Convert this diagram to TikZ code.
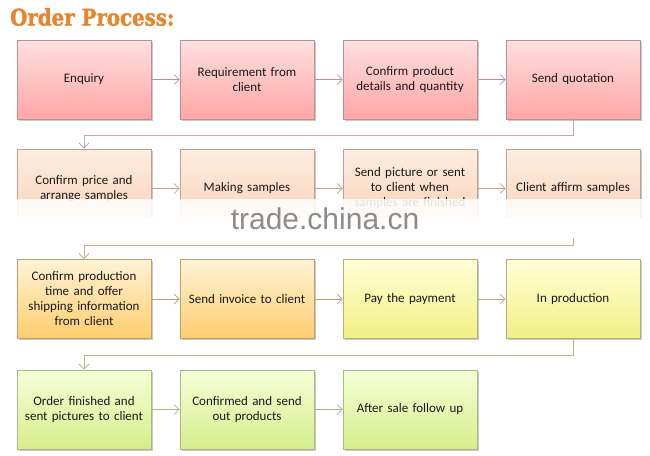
\documentclass[tikz,border=0pt]{standalone}
\usepackage{fontspec}
\setmainfont{Carlito}
\newfontfamily\titlefont[FakeBold=1.5]{DejaVu Serif Bold}
\newfontfamily\wmfont{Liberation Sans}
\usetikzlibrary{shadows,arrows.meta}
\definecolor{titleorange}{HTML}{E8842C}
\definecolor{pinkT}{HTML}{FFE0E0}\definecolor{pinkB}{HTML}{FFA6A6}\definecolor{pinkL}{HTML}{B89090}
\definecolor{peachT}{HTML}{FDEDE2}\definecolor{peachB}{HTML}{FAD2B4}\definecolor{peachL}{HTML}{C0A090}
\definecolor{orT}{HTML}{FFF3D6}\definecolor{orB}{HTML}{FFCD6E}\definecolor{orL}{HTML}{B8A070}
\definecolor{yeT}{HTML}{FFFFD8}\definecolor{yeB}{HTML}{F2F084}\definecolor{yeL}{HTML}{B0B080}
\definecolor{grT}{HTML}{F6FFD8}\definecolor{grB}{HTML}{D6EE8C}\definecolor{grL}{HTML}{A8B888}
\tikzset{
  box/.style={draw=#1L, line width=0.6pt, top color=#1T, bottom color=#1B,
    minimum width=134pt, minimum height=79pt, inner sep=2pt, align=center,
    text width=128pt, font=\fontsize{13}{15}\selectfont, text=black!90,
    drop shadow={shadow xshift=1.5pt, shadow yshift=-1.5pt, opacity=0.35, fill=black!60}},
  arr/.style={draw=#1, line width=0.7pt, -{Straight Barb[length=5pt,width=10pt]}},
  conn/.style={draw=#1, line width=0.9pt, -{Straight Barb[length=5pt,width=10pt]}},
}
\begin{document}
\begin{tikzpicture}[x=1pt,y=-1pt]
\useasboundingbox (0,0) rectangle (650,455);
\fill[white] (0,0) rectangle (650,455);
\node[anchor=west, font=\titlefont\fontsize{23}{24}\selectfont, text=titleorange, inner sep=0pt] (title) at (10,17) {\scalebox{0.86}[1]{Order Process:}};
% row 1
\node[box=pink] (a1) at (84,79.5) {Enquiry};
\node[box=pink] (a2) at (247,79.5) {Requirement from\\client};
\node[box=pink] (a3) at (410,79.5) {Confirm product\\details and quantity};
\node[box=pink] (a4) at (573,79.5) {Send quotation};
% row 2
\node[box=peach] (b1) at (84,188.5) {Confirm price and\\arrange samples};
\node[box=peach] (b2) at (247,188.5) {Making samples};
\node[box=peach] (b3) at (410,188.5) {Send picture or sent\\to client when\\samples are finished};
\node[box=peach] (b4) at (573,188.5) {Client affirm samples};
% row 3
\node[box=or] (c1) at (84,299) {Confirm production\\time and offer\\shipping information\\from client};
\node[box=or] (c2) at (247,299) {Send invoice to client};
\node[box=ye] (c3) at (410,299) {Pay the payment};
\node[box=ye] (c4) at (573,299) {In production};
% row 4
\node[box=gr] (d1) at (84,409.5) {Order finished and\\sent pictures to client};
\node[box=gr] (d2) at (247,409.5) {Confirmed and send\\out products};
\node[box=gr] (d3) at (410,409.5) {After sale follow up};
% arrows
\draw[arr=pinkL] (a1) -- (a2);
\draw[arr=pinkL] (a2) -- (a3);
\draw[arr=pinkL] (a3) -- (a4);
\draw[arr=peachL] (b1) -- (b2);
\draw[arr=peachL] (b2) -- (b3);
\draw[arr=peachL] (b3) -- (b4);
\draw[arr=orL] (c1) -- (c2);
\draw[arr=orL] (c2) -- (c3);
\draw[arr=yeL] (c3) -- (c4);
\draw[arr=grL] (d1) -- (d2);
\draw[arr=grL] (d2) -- (d3);
\draw[conn=pinkL!80] (a4.south) |- (84,135) -- (b1.north);
\draw[conn=orL!80] (b4.south) |- (84,245) -- (c1.north);
\draw[conn=yeL!90] (c4.south) |- (84,355) -- (d1.north);
% faded band and watermark
\fill[white, opacity=0.88] (0,199) rectangle (650,218);
\fill[white] (0,218) rectangle (650,238);
\node[font=\wmfont\fontsize{30}{30}\selectfont, text=black!45, inner sep=0pt] (wm) at (325,219) {trade.china.cn};
\end{tikzpicture}
\end{document}
